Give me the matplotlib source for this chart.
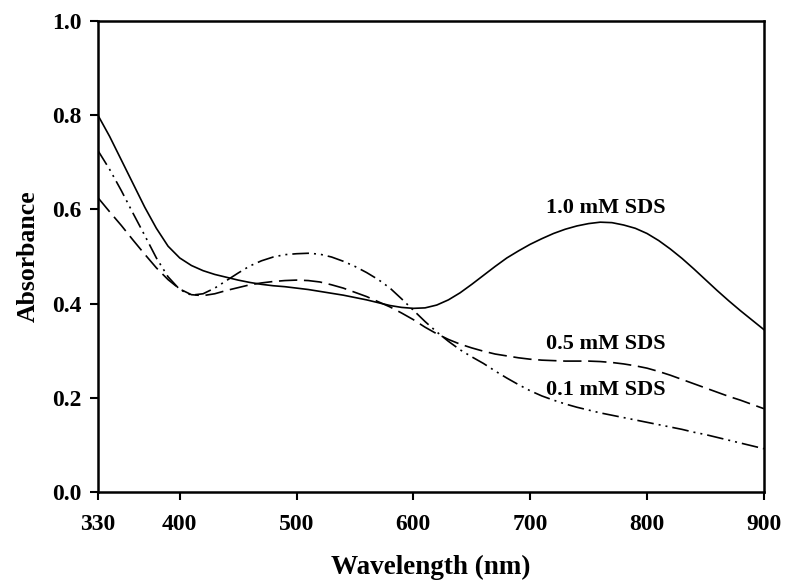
import numpy as np
import matplotlib
matplotlib.use("Agg")
import matplotlib.pyplot as plt

# absorbance spectra, every 10 nm from 330 to 900
wavelength = list(range(330, 901, 10))

sds_10 = [0.800, 0.755, 0.705, 0.655, 0.605, 0.560, 0.522, 0.497, 0.481, 0.470,
          0.462, 0.456, 0.450, 0.445, 0.441, 0.438, 0.436, 0.433, 0.430, 0.426,
          0.422, 0.418, 0.413, 0.408, 0.402, 0.396, 0.392, 0.390, 0.391, 0.397,
          0.408, 0.423, 0.441, 0.460, 0.479, 0.497, 0.512, 0.526, 0.538, 0.549,
          0.558, 0.565, 0.570, 0.573, 0.572, 0.567, 0.560, 0.549, 0.534, 0.516,
          0.496, 0.474, 0.451, 0.428, 0.406, 0.385, 0.365, 0.345]

sds_05 = [0.625, 0.595, 0.566, 0.535, 0.505, 0.476, 0.451, 0.431, 0.419, 0.417,
          0.421, 0.428, 0.434, 0.440, 0.444, 0.447, 0.449, 0.450, 0.449, 0.446,
          0.440, 0.433, 0.424, 0.415, 0.404, 0.393, 0.380, 0.366, 0.350, 0.336,
          0.324, 0.314, 0.306, 0.299, 0.293, 0.289, 0.285, 0.282, 0.280, 0.279,
          0.278, 0.278, 0.278, 0.277, 0.275, 0.272, 0.268, 0.263, 0.256, 0.248,
          0.239, 0.230, 0.221, 0.212, 0.203, 0.195, 0.186, 0.177]

sds_01 = [0.725, 0.685, 0.640, 0.592, 0.545, 0.497, 0.457, 0.430, 0.418, 0.421,
          0.433, 0.449, 0.465, 0.480, 0.491, 0.499, 0.504, 0.506, 0.507, 0.505,
          0.499, 0.490, 0.479, 0.466, 0.451, 0.433, 0.410, 0.386, 0.362, 0.340,
          0.320, 0.302, 0.287, 0.273, 0.257, 0.242, 0.228, 0.215, 0.204, 0.195,
          0.187, 0.180, 0.174, 0.168, 0.163, 0.158, 0.153, 0.148, 0.143, 0.138,
          0.133, 0.127, 0.122, 0.116, 0.110, 0.104, 0.098, 0.092]

labels = ["1.0 mM SDS", "0.5 mM SDS", "0.1 mM SDS"]
xticks = [330, 400, 500, 600, 700, 800, 900]
yticks = [0.0, 0.2, 0.4, 0.6, 0.8, 1.0]

plt.rcParams['font.family'] = ['Liberation Serif', 'DejaVu Serif']
plt.rcParams['font.weight'] = 'bold'

fig = plt.figure(figsize=(7.85, 5.86), dpi=100)
ax = fig.add_axes([0.1248, 0.1604, 0.8482, 0.8036])

ax.plot(wavelength, sds_10, color='black', lw=1.2, linestyle='-')
ax.plot(wavelength, sds_05, color='black', lw=1.2, dashes=(11, 4))
ax.plot(wavelength, sds_01, color='black', lw=1.2, dashes=(10, 3, 1.2, 3, 1.2, 3))

ax.text(765, 0.603, labels[0], ha='center', va='center', fontsize=16, fontweight='bold')
ax.text(765, 0.314, labels[1], ha='center', va='center', fontsize=16, fontweight='bold')
ax.text(765, 0.217, labels[2], ha='center', va='center', fontsize=16, fontweight='bold')

ax.set_xlim(330, 900)
ax.set_ylim(0, 1.0)
ax.set_xticks(xticks)
ax.set_yticks(yticks)
ax.set_yticklabels(["%.1f" % v for v in yticks])
ax.tick_params(direction='out', length=6, width=1.5, labelsize=17, pad=6)
ax.tick_params(axis='x', pad=10)
for s in ax.spines.values():
    s.set_linewidth(1.8)

ax.set_xlabel("Wavelength (nm)", fontsize=19.5, fontweight='bold', labelpad=14)
ax.set_ylabel("Absorbance", fontsize=18.5, fontweight='bold', labelpad=9)

fig.savefig("out.png", dpi=100)
